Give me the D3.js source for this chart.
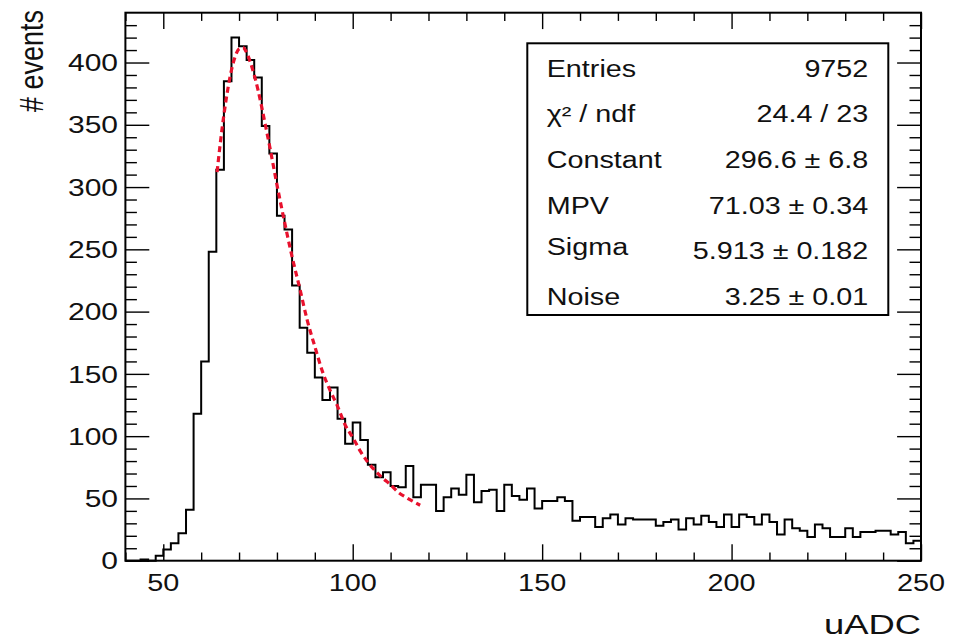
<!DOCTYPE html>
<html><head><meta charset="utf-8">
<script src="https://cdn.jsdelivr.net/npm/d3@7"></script>
<style>
html,body{margin:0;padding:0;background:#fff;}
svg{display:block;}
text{font-family:"Liberation Sans",Arial,Helvetica,sans-serif;fill:#111;}
</style>
</head><body>
<svg id="chart" width="954" height="643"></svg>
<script>
// ---------------- data ----------------
const binLowEdges = d3.range(40, 250, 2);   // 105 bins of width 2 (uADC)
const binWidth = 2;
const counts = [
  0, 0, 1, 0, 4, 9, 14, 22, 41, 118,
  160, 248, 314, 385, 420, 413, 402, 388, 349, 327,
  277, 266, 221, 187, 167, 147, 129, 139, 114, 94,
  111, 97, 77, 67, 71, 60, 59, 76, 51, 61,
  61, 40, 51, 58, 53, 69, 47, 56, 57, 40,
  61, 52, 49, 58, 42, 48, 48, 51, 48, 32,
  35, 35, 27, 34, 37, 29, 34, 33, 33, 33,
  28, 31, 33, 25, 34, 29, 36, 31, 27, 37,
  27, 37, 35, 29, 37, 31, 21, 33, 26, 24,
  19, 29, 26, 19, 19, 26, 19, 23, 23, 24,
  24, 21, 23, 14, 16
];
const fitX = [64.2, 65, 66, 67, 68, 69, 70, 71, 72, 73, 74, 75, 76, 77, 78, 79, 80, 82, 84, 86, 88, 90, 92, 94, 96, 98, 100, 102, 104, 106, 108, 110, 112, 114, 116, 117.8];
const fitY = [312, 334, 358, 378, 394, 405, 411, 412, 408, 400, 390, 378, 364, 349, 334, 318, 302, 272, 244, 219, 193, 172, 152, 137, 124, 109, 99, 88, 79, 72, 66, 61, 55, 51, 47.5, 44.5];

const xMajor = [50, 100, 150, 200, 250];
const xMinor = [40, 60, 70, 80, 90, 110, 120, 130, 140, 160, 170, 180, 190, 210, 220, 230, 240];
const yMajor = [0, 50, 100, 150, 200, 250, 300, 350, 400];
const yMinor = [10, 20, 30, 40, 60, 70, 80, 90, 110, 120, 130, 140, 160, 170, 180, 190, 210, 220, 230, 240, 260, 270, 280, 290, 310, 320, 330, 340, 360, 370, 380, 390, 410, 420, 430];

const xTitle = "uADC";
const yTitle = "# events";
const statLabels = ["Entries", "\u03c7\u00b2 / ndf", "Constant", "MPV", "Sigma", "Noise"];
const statValues = ["9752", "24.4 / 23", "296.6 \u00b1 6.8", "71.03 \u00b1 0.34", "5.913 \u00b1 0.182", "3.25 \u00b1 0.01"];

// ---------------- layout ----------------
const L = 125.4, R = 921, T = 12.7, B = 560.7;
const SX = 1.2; // horizontal glyph stretch seen in reference
const svg = d3.select("#chart");
svg.append("rect").attr("width", 954).attr("height", 643).attr("fill", "#fff");

const x = d3.scaleLinear().domain([40, 250]).range([L, R]);
const y = d3.scaleLinear().domain([0, 440]).range([B, T]);

// histogram outline
const histPts = binLowEdges.map((e, i) => [e, counts[i]]);
histPts.push([binLowEdges[binLowEdges.length - 1] + binWidth, counts[counts.length - 1]]);
const histLine = d3.line().x(d => x(d[0])).y(d => y(d[1])).curve(d3.curveStepAfter);
svg.append("path").attr("d", histLine(histPts))
  .attr("fill", "none").attr("stroke", "#000").attr("stroke-width", 2)
  .attr("stroke-linejoin", "miter");

// fit curve
const fitPts = fitX.map((v, i) => [v, fitY[i]]);
const fitLine = d3.line().x(d => x(d[0])).y(d => y(d[1])).curve(d3.curveMonotoneX);
svg.append("path").attr("d", fitLine(fitPts))
  .attr("fill", "none").attr("stroke", "#e8112d").attr("stroke-width", 3.2)
  .attr("stroke-dasharray", "6,4");

// axes ticks (inside, mirrored)
function tickAxis(axis, tx, ty) {
  const g = svg.append("g").attr("transform", `translate(${tx},${ty})`).call(axis);
  g.select(".domain").remove();
  g.selectAll("line").attr("stroke", "#000").attr("stroke-width", 1.4);
  g.selectAll("text").remove();
  return g;
}
const xMajLen = 16.4, xMinLen = 8.2, yMajLen = 23.9, yMinLen = 11.5;
tickAxis(d3.axisBottom(x).tickValues(xMajor).tickSize(-xMajLen).tickFormat(""), 0, B);
tickAxis(d3.axisBottom(x).tickValues(xMinor).tickSize(-xMinLen).tickFormat(""), 0, B);
tickAxis(d3.axisTop(x).tickValues(xMajor).tickSize(-xMajLen).tickFormat(""), 0, T);
tickAxis(d3.axisTop(x).tickValues(xMinor).tickSize(-xMinLen).tickFormat(""), 0, T);
tickAxis(d3.axisLeft(y).tickValues(yMajor).tickSize(-yMajLen).tickFormat(""), L, 0);
tickAxis(d3.axisLeft(y).tickValues(yMinor).tickSize(-yMinLen).tickFormat(""), L, 0);
tickAxis(d3.axisRight(y).tickValues(yMajor).tickSize(-yMajLen).tickFormat(""), R, 0);
tickAxis(d3.axisRight(y).tickValues(yMinor).tickSize(-yMinLen).tickFormat(""), R, 0);

// frame
svg.append("rect").attr("x", L).attr("y", T).attr("width", R - L).attr("height", B - T)
  .attr("fill", "none").attr("stroke", "#000").attr("stroke-width", 2);

// tick labels
const fmt = d3.format("d");
svg.append("g").selectAll("text").data(xMajor).join("text")
  .attr("transform", d => `translate(${x(d)},591) scale(${SX},1)`)
  .attr("text-anchor", "middle").attr("font-size", 24).text(fmt);
svg.append("g").selectAll("text").data(yMajor).join("text")
  .attr("transform", d => `translate(118,${y(d)}) scale(1.25,1)`)
  .attr("text-anchor", "end").attr("dy", "0.36em").attr("font-size", 24).text(fmt);

// axis titles
svg.append("text").attr("transform", `translate(921,634) scale(1.3,1)`)
  .attr("text-anchor", "end").attr("font-size", 28).text(xTitle);
svg.append("text").attr("transform", `translate(43,10) scale(1.2,1) rotate(-90)`)
  .attr("text-anchor", "end").attr("font-size", 27).text(yTitle);

// stats box
const bx0 = 527.3, by0 = 43.3, bx1 = 888.3, by1 = 315;
svg.append("rect").attr("x", bx0).attr("y", by0).attr("width", bx1 - bx0).attr("height", by1 - by0)
  .attr("fill", "#fff").attr("stroke", "#000").attr("stroke-width", 2);
const rowY = d3.scaleLinear().domain([0, statLabels.length - 1]).range([76.7, 305]);
const labelShift = [0, 0, 0, 0, -4, 0];
const sg = svg.append("g");
sg.selectAll("text.lab").data(statLabels).join("text").attr("class", "lab")
  .attr("transform", (d, i) => `translate(546.7,${rowY(i) + labelShift[i]}) scale(1.25,1)`)
  .attr("font-size", 23).text(d => d);
sg.selectAll("text.val").data(statValues).join("text").attr("class", "val")
  .attr("transform", (d, i) => `translate(868.3,${rowY(i)}) scale(1.25,1)`)
  .attr("text-anchor", "end").attr("font-size", 23).text(d => d);
</script>
</body></html>
